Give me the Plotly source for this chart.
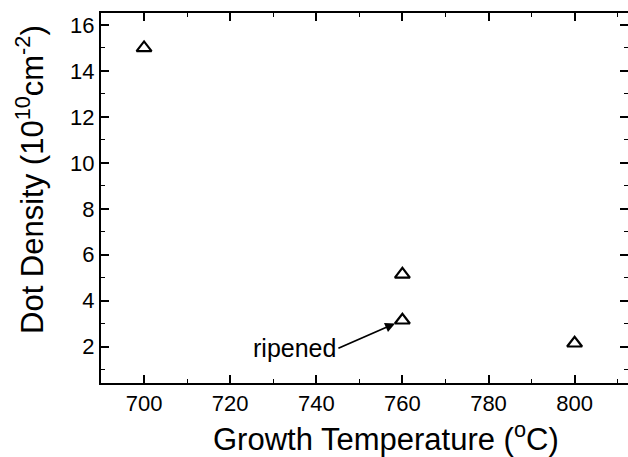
import plotly.graph_objects as go

temps = [700, 760, 760, 800]
density = [15.0, 5.15, 3.15, 2.15]
x_title = "Growth Temperature (<sup>o</sup>C)"
y_title = "Dot Density (10<sup>10</sup>cm<sup>-2</sup>)"
note_text = "ripened"
note_x, note_y = 760, 3.15

FONT = "Liberation Sans, Arial, sans-serif"

fig = go.Figure()
fig.add_trace(go.Scatter(
    x=temps, y=density, mode="markers",
    marker=dict(symbol="triangle-up-open", size=13, color="black",
                line=dict(color="black", width=2.2)),
    showlegend=False,
))
# invisible trace on right-side axis so its ticks render
fig.add_trace(go.Scatter(x=[temps[0]], y=[density[0]], yaxis="y2", mode="markers",
                         marker=dict(opacity=0), showlegend=False, hoverinfo="skip"))

fig.add_annotation(
    x=note_x, y=note_y, xref="x", yref="y",
    text=note_text, showarrow=True,
    arrowhead=2, arrowsize=1.1, arrowwidth=1.8, arrowcolor="black",
    ax=-64, ay=28, standoff=8,
    xanchor="right", yanchor="middle",
    font=dict(family=FONT, size=25, color="black"),
)

# axis titles placed as annotations (reference centres them off the visible plot centre)
fig.add_annotation(
    text=x_title, xref="paper", yref="paper",
    x=(386 - 101) / 527, y=-(437 - 383) / 370,
    xanchor="center", yanchor="middle", showarrow=False,
    font=dict(family=FONT, size=31, color="black"),
)
fig.add_annotation(
    text=y_title, xref="paper", yref="paper", textangle=-90,
    x=-(101 - 30) / 527, y=(383 - 180) / 370,
    xanchor="center", yanchor="middle", showarrow=False,
    font=dict(family=FONT, size=31, color="black"),
)

tickfont = dict(family=FONT, size=22, color="black")

fig.update_xaxes(
    range=[690, 812.4], tickmode="linear", tick0=700, dtick=20,
    showline=True, linecolor="black", linewidth=2, mirror="ticks",
    ticks="inside", ticklen=8, tickwidth=1.5, tickcolor="black",
    minor=dict(ticks="inside", ticklen=4, tickwidth=1.2, tickcolor="black", dtick=10, tick0=700),
    showgrid=False, zeroline=False, tickfont=tickfont,
)

fig.update_layout(
    width=628, height=457,
    margin=dict(l=101, r=0, t=13, b=74),
    plot_bgcolor="white", paper_bgcolor="white",
    yaxis=dict(
        range=[0.42, 16.52], tickmode="linear", tick0=2, dtick=2,
        showline=True, linecolor="black", linewidth=2, mirror=False,
        ticks="inside", ticklen=8, tickwidth=1.5, tickcolor="black",
        minor=dict(ticks="inside", ticklen=4, tickwidth=1.2, tickcolor="black", dtick=1, tick0=0),
        showgrid=False, zeroline=False, tickfont=tickfont,
    ),
    yaxis2=dict(
        overlaying="y", side="right", range=[0.42, 16.52], tickmode="linear", tick0=2, dtick=2,
        showline=False, showticklabels=False,
        ticks="inside", ticklen=8, tickwidth=1.5, tickcolor="black",
        minor=dict(ticks="inside", ticklen=4, tickwidth=1.2, tickcolor="black", dtick=1, tick0=0),
        showgrid=False, zeroline=False,
    ),
)

fig.write_html("out.html")
